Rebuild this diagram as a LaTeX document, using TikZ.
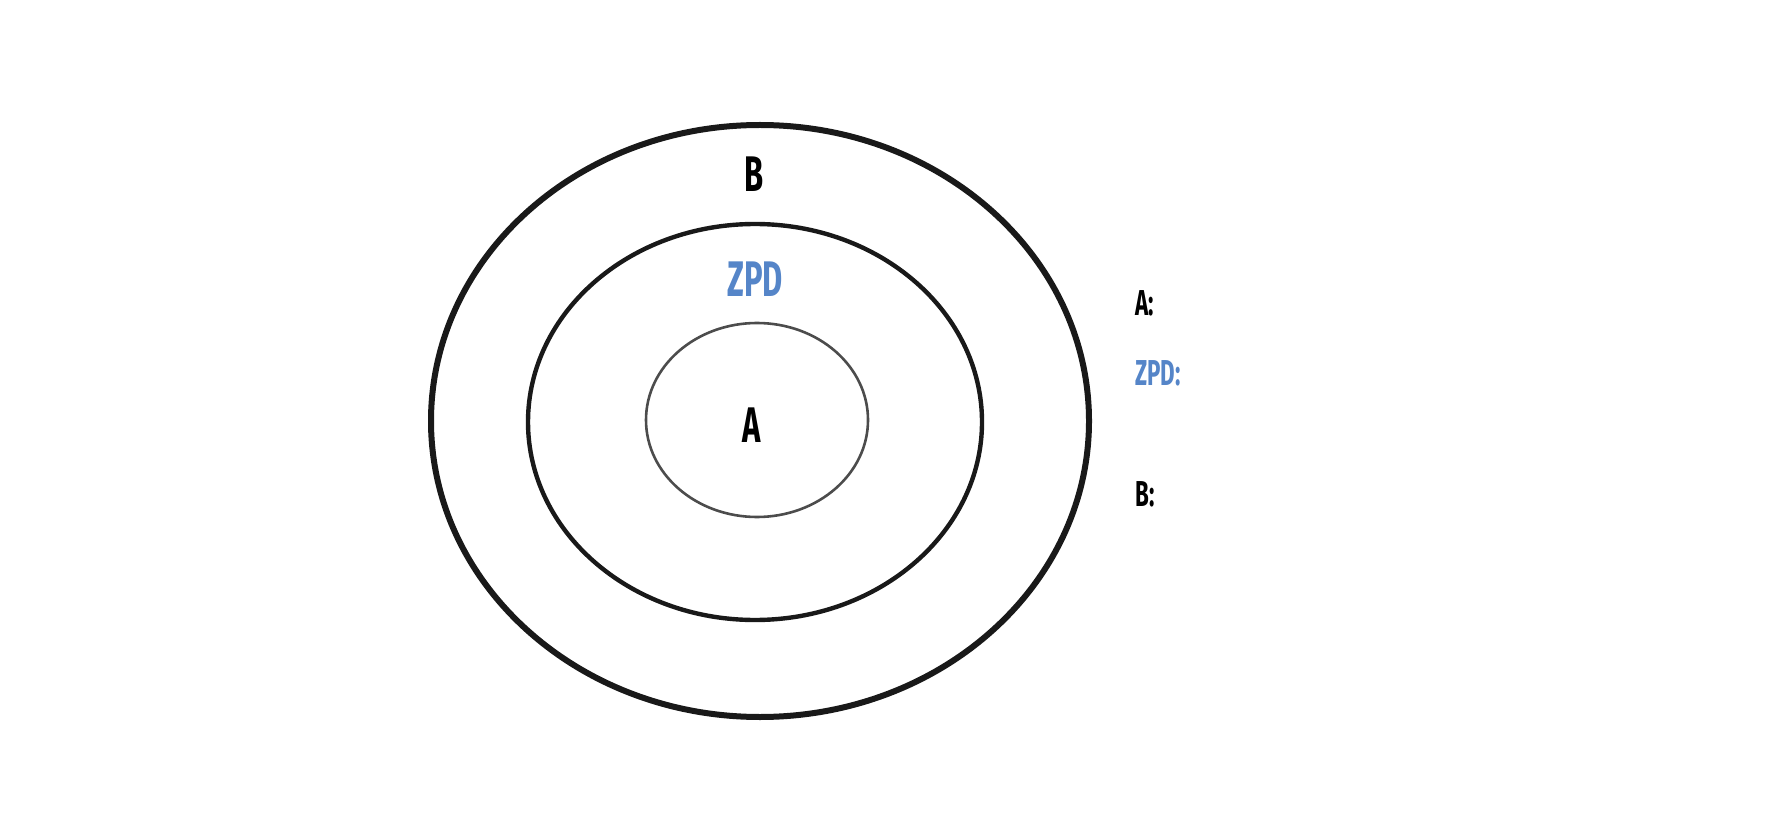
\documentclass[tikz,border=0pt]{standalone}
\usepackage{fontspec}
\newfontfamily\handfont[FakeStretch=0.62]{Fira Sans}
\definecolor{zpdblue}{HTML}{5585C8}
\tikzset{
    ring/.style={line width=#1, black!90},
    biglabel/.style={font=\handfont\bfseries\fontsize{25}{25}\selectfont, inner sep=0pt},
    keylabel/.style={font=\handfont\bfseries\fontsize{18}{18}\selectfont, inner sep=0pt, anchor=west}
}
\begin{document}
\begin{tikzpicture}[x=0.5pt, y=-0.5pt]
            \useasboundingbox (0,0) rectangle (1792,828);
            \draw[ring=3pt] (760,421) ellipse [x radius=164.5pt, y radius=148pt];
            \draw[ring=2.2pt] (755,422) ellipse [x radius=113.5pt, y radius=99pt];
            \draw[ring=1.3pt, black!70] (757,420) ellipse [x radius=55.5pt, y radius=48.5pt];
            \node[biglabel] (labB) at (754,174) {B};
            \node[biglabel, zpdblue] (labZPD) at (755,279) {ZPD};
            \node[biglabel] (labA) at (752,425) {A};
            \node[keylabel] (keyA) at (1135,303) {A:};
            \node[keylabel, zpdblue] (keyZPD) at (1135,373) {ZPD:};
            \node[keylabel] (keyB) at (1135,494) {B:};
        \end{tikzpicture}
\end{document}
